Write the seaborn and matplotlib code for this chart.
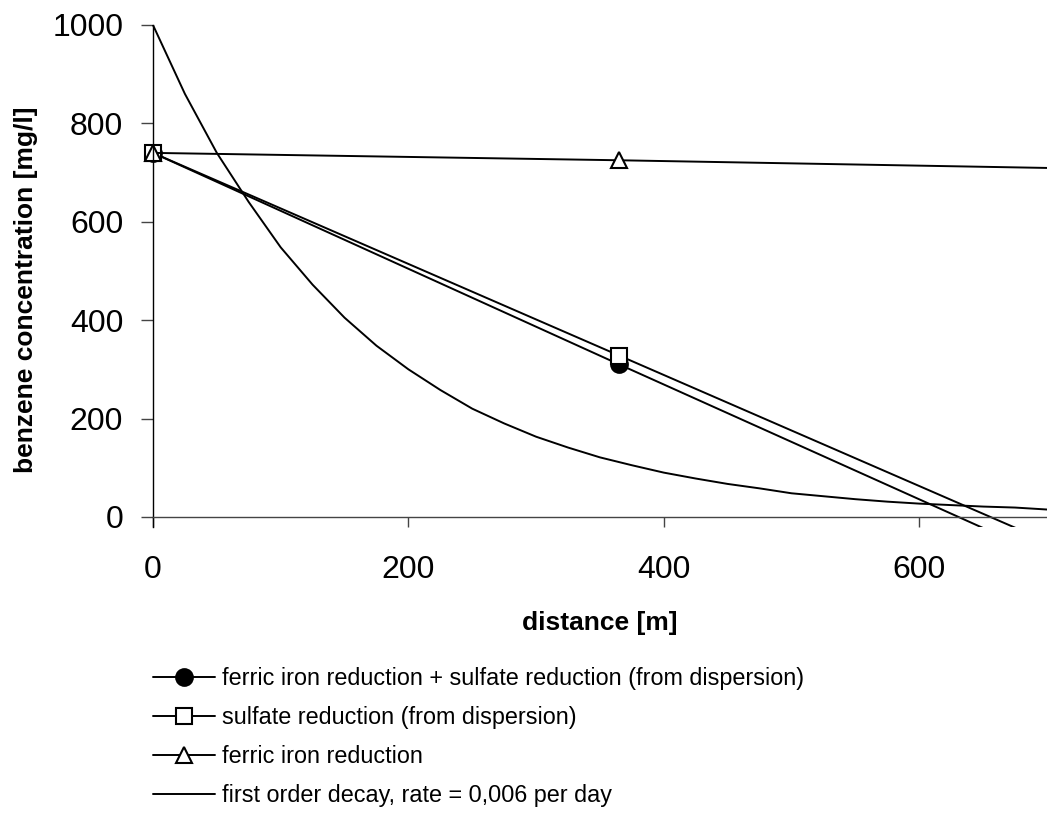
import numpy as np
import pandas as pd
import matplotlib
matplotlib.use("Agg")
import matplotlib.pyplot as plt
import seaborn as sns

# ===============================
# Data
# ===============================

# model lines: points at 0 and 365 m, third point only to carry the line on
dist_model = [0, 365, 730]
conc_fe_so4 = [740, 310, -116]
conc_so4 = [740, 328, -84]
conc_fe = [740, 725, 708]

# first order decay curve
dist_decay = [0, 25, 50, 75, 100, 125, 150, 175, 200, 225, 250, 275, 300, 325,
              350, 375, 400, 425, 450, 475, 500, 525, 550, 575, 600, 625, 650,
              675, 700]
conc_decay = [1000, 860, 740, 640, 548, 472, 405, 348, 300, 258, 220, 190, 163,
              141, 121, 105, 90, 78, 67, 58, 48, 42, 36, 31, 27, 24, 21, 19, 15]

labels = [
    "ferric iron reduction + sulfate reduction (from dispersion)",
    "sulfate reduction (from dispersion)",
    "ferric iron reduction",
    "first order decay, rate = 0,006 per day",
]

# ===============================
# Style
# ===============================

sns.set_theme(style="white")
plt.rcParams["font.family"] = ["Liberation Sans", "DejaVu Sans"]
plt.rcParams["text.color"] = "black"
plt.rcParams["axes.labelcolor"] = "black"
plt.rcParams["xtick.color"] = "black"
plt.rcParams["ytick.color"] = "black"

fig = plt.figure(figsize=(10.47, 8.14), dpi=100)
# x range starts a little left of 0 so the markers at 0 are not cut
ax = fig.add_axes([0.1278, 0.3529, 0.8722, 0.6164])

lw = 1.4

sns.lineplot(x=dist_model, y=conc_fe_so4, ax=ax, color="black", lw=lw,
             marker="o", markersize=12, mfc="black", mec="black", mew=1.5,
             markevery=[0, 1], label=labels[0])
sns.lineplot(x=dist_model, y=conc_so4, ax=ax, color="black", lw=lw,
             marker="s", markersize=12, mfc="white", mec="black", mew=1.5,
             markevery=[0, 1], label=labels[1])
sns.lineplot(x=dist_model, y=conc_fe, ax=ax, color="black", lw=lw,
             marker="^", markersize=12, mfc="white", mec="black", mew=1.5,
             markevery=[0, 1], label=labels[2])
sns.lineplot(x=dist_decay, y=conc_decay, ax=ax, color="black", lw=lw,
             label=labels[3])

# ===============================
# Axes
# ===============================

ax.set_xlim(-15, 700)
ax.set_ylim(-20, 1000)
ax.set_xticks([0, 200, 400, 600])
ax.set_yticks([0, 200, 400, 600, 800, 1000])

ax.spines["top"].set_visible(False)
ax.spines["right"].set_visible(False)
ax.spines["bottom"].set_position(("data", 0))
ax.spines["bottom"].set_bounds(0, 700)
ax.spines["left"].set_position(("data", 0))
ax.spines["bottom"].set_color("#444444")
ax.spines["left"].set_color("black")
ax.spines["bottom"].set_linewidth(1.0)
ax.spines["left"].set_linewidth(1.0)

ax.tick_params(axis="y", direction="out", length=8.4, width=1.0,
               color="#444444", labelsize=23, pad=13, left=True)
ax.tick_params(axis="x", direction="out", length=7.5, width=1.0,
               color="#444444", labelsize=23, pad=20, bottom=True)

ax.set_xlabel("distance [m]", fontsize=19, fontweight="bold")
ax.set_ylabel("benzene concentration [mg/l]", fontsize=19, fontweight="bold")
ax.xaxis.set_label_coords(0.5105, -0.168)
ax.yaxis.set_label_coords(-0.1049, 0.472)

# ===============================
# Legend
# ===============================

ax.legend(loc="upper left", bbox_to_anchor=(0.1461, 0.1800),
          bbox_transform=fig.transFigure, frameon=False, fontsize=16.8,
          handlelength=2.65, handletextpad=0.3, labelspacing=0.68,
          borderpad=0, borderaxespad=0, numpoints=1)

fig.savefig("out.png", dpi=100)
